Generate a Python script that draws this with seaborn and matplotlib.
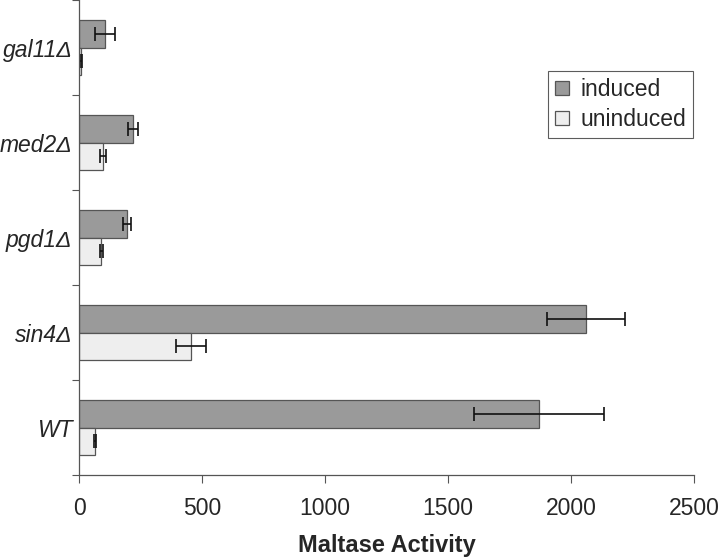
import matplotlib
matplotlib.use("Agg")
import matplotlib.pyplot as plt
import seaborn as sns
import pandas as pd
from matplotlib.ticker import FixedLocator

strains = ["gal11\u0394", "med2\u0394", "pgd1\u0394", "sin4\u0394", "WT"]
induced = [105, 220, 195, 2060, 1870]
induced_err = [42, 20, 15, 160, 263]
uninduced = [8, 97, 90, 455, 65]
uninduced_err = [3, 12, 5, 62, 5]
conditions = ["induced", "uninduced"]
xticks = [0, 500, 1000, 1500, 2000, 2500]

df = pd.DataFrame({
    "strain": strains * 2,
    "condition": ["induced"] * len(strains) + ["uninduced"] * len(strains),
    "value": induced + uninduced,
    "err": induced_err + uninduced_err,
})

sns.set_style("white")
plt.rcParams["font.family"] = ["Liberation Sans", "DejaVu Sans"]

fig = plt.figure(figsize=(7.2, 5.57), dpi=100)
ax = fig.add_axes([0.11, 0.147, 0.854, 0.853])

palette = {"induced": "#9a9a9a", "uninduced": "#eeeeee"}
sns.barplot(data=df, y="strain", x="value", hue="condition", order=strains,
            hue_order=conditions, palette=palette, orient="h", width=0.58,
            errorbar=None, edgecolor="#555555", linewidth=0.9, ax=ax,
            saturation=1)

# error bars placed on the bars drawn by seaborn
for cont, cond in zip(ax.containers, conditions):
    sub = df[df.condition == cond].set_index("strain").loc[strains]
    ys = [p.get_y() + p.get_height() / 2 for p in cont.patches]
    ax.errorbar(sub["value"].values, ys, xerr=sub["err"].values, fmt="none",
                ecolor="#111111", elinewidth=1.2, capsize=5, capthick=1.2)

ax.set_xlim(0, 2500)
ax.set_ylim(4.5, -0.5)
ax.set_xticks(xticks)
ax.set_xticklabels([str(t) for t in xticks], fontsize=16.5)
ax.set_yticks(range(len(strains)))
ax.set_yticklabels(strains, fontsize=16.5, style="italic")
ax.yaxis.set_minor_locator(FixedLocator([-0.5, 0.5, 1.5, 2.5, 3.5, 4.5]))
ax.tick_params(axis="y", which="major", length=0, pad=5)
ax.tick_params(axis="y", which="minor", length=5, width=0.8, color="#555555", direction="out", left=True)
ax.tick_params(axis="x", which="major", length=6, width=0.8, color="#555555", direction="out", pad=10, bottom=True)

for s in ["top", "right"]:
    ax.spines[s].set_visible(False)
for s in ["left", "bottom"]:
    ax.spines[s].set_color("#555555")
    ax.spines[s].set_linewidth(0.9)

ax.set_xlabel("Maltase Activity", fontsize=17, fontweight="bold", labelpad=10)
ax.set_ylabel("")

leg = ax.legend(loc="upper right", bbox_to_anchor=(0.998, 0.85), borderaxespad=0,
                fontsize=16.5, frameon=True, fancybox=False, edgecolor="#333333",
                handlelength=0.6, handleheight=0.6, handletextpad=0.5,
                borderpad=0.3, labelspacing=0.3)
leg.get_frame().set_linewidth(0.8)

fig.savefig("out.png", dpi=100)
